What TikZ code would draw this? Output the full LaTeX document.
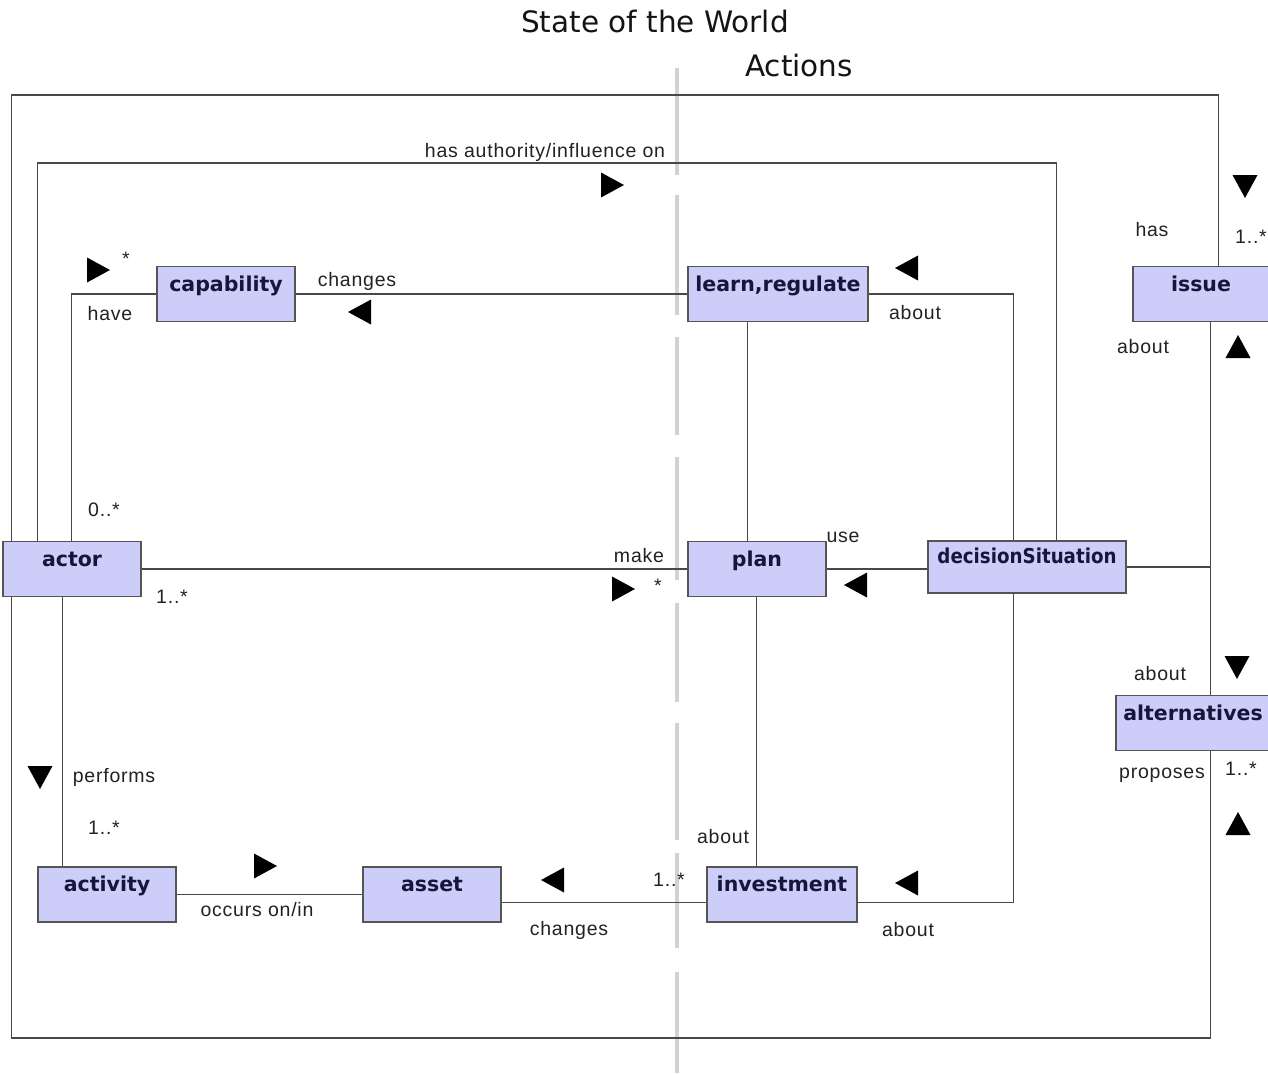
\documentclass[tikz,border=0pt]{standalone}
\usepackage{fontspec}
\newfontfamily\lblfont{Liberation Sans}[LetterSpace=4]
\newfontfamily\boxfont{DejaVu Sans}
\newfontfamily\boxfonttight{DejaVu Sans}[FakeStretch=0.89]
\newfontfamily\titlefont{DejaVu Sans}
\definecolor{boxfill}{RGB}{205,205,250}
\definecolor{boxline}{RGB}{85,85,85}
\definecolor{boxtext}{RGB}{22,22,58}
\definecolor{linecol}{RGB}{72,72,72}
\definecolor{labelcol}{RGB}{34,34,34}
\definecolor{dashcol}{RGB}{210,210,210}
\begin{document}
\begin{tikzpicture}[x=1pt,y=-1pt,
  umlbox/.style={draw=boxline, fill=boxfill, line width=1.4pt, inner sep=0pt,
    text=boxtext, font=\boxfont\bfseries\fontsize{20.5}{24}\selectfont,
    text height=24.5pt, text depth=30.5pt, minimum width=138pt},
  conn/.style={draw=linecol, line width=1.5pt},
  lbl/.style={font=\lblfont\fontsize{19.5}{22}\selectfont, text=labelcol, inner sep=0pt},
  ttl/.style={font=\titlefont\fontsize{29.5}{34}\selectfont, text=black!92, inner sep=0pt},
  tri/.pic={\fill[black] (-11,-12.5) -- (12,0) -- (-11,12.5) -- cycle;}
]
\clip (0,0) rectangle (1268,1073);
\fill[white] (0,0) rectangle (1268,1073);

% grey separator
\draw[dashcol, line width=4pt]
  (677,68) -- (677,175) (677,195) -- (677,315) (677,337) -- (677,435)
  (677,457) -- (677,580) (677,603) -- (677,702) (677,723) -- (677,840)
  (677,853) -- (677,948) (677,972) -- (677,1073);

% titles
\node[ttl] (title1) at (655,22) {State of the World};
\node[ttl] (title2) at (799,66) {Actions};

% classes
\node[umlbox] (capability) at (226,294) {capability};
\node[umlbox, minimum width=180pt] (learn) at (778,294) {learn,regulate};
\node[umlbox] (actor) at (72,569) {actor};
\node[umlbox] (plan) at (757,569) {plan};
\node[umlbox, minimum width=198pt, text height=22.5pt, text depth=29.5pt,
  font=\boxfonttight\bfseries\fontsize{20.5}{24}\selectfont] (decision) at (1027,567) {decisionSituation};
\node[umlbox, minimum width=136pt] (issue) at (1201,294) {issue};
\node[umlbox, minimum width=154pt] (alternatives) at (1193,723) {alternatives};
\node[umlbox] (activity) at (107,894.5) {activity};
\node[umlbox] (asset) at (432,894.5) {asset};
\node[umlbox, minimum width=150pt] (investment) at (782,894.5) {investment};

% connectors
\draw[conn] ([xshift=9pt]actor.north west) -- ++(0,-446) -| ([xshift=86pt]issue.north west);
\draw[conn] ([xshift=9pt]actor.south west) -- ++(0,441) -| ([xshift=95pt]alternatives.south west);
\draw[conn] ([xshift=35pt]actor.north west) -- ++(0,-378) -| ([xshift=129pt]decision.north west);
\draw[conn] ([xshift=69pt]actor.north west) |- (capability.west);
\draw[conn] (capability.east) -- (learn.west);
\draw[conn] (learn.east) -| ([xshift=86pt]decision.north west);
\draw[conn] ([xshift=60pt]learn.south west) -- ([xshift=60pt]plan.north west);
\draw[conn] (actor.east) -- (plan.west);
\draw[conn] (plan.east) -- (plan.east -| decision.west);
\draw[conn] ([xshift=69pt]plan.south west) -- ([xshift=50pt]investment.north west);
\draw[conn] ([xshift=86pt]decision.south west) |- ([yshift=-8pt]investment.east);
\draw[conn] (decision.east) -| ([xshift=78pt]issue.south west);
\draw[conn] (decision.east) -| ([xshift=95pt]alternatives.north west);
\draw[conn] ([xshift=60pt]actor.south west) -- ([xshift=25pt]activity.north west);
\draw[conn] (activity.east) -- (asset.west);
\draw[conn] ([yshift=-8pt]asset.east) -- ([yshift=-8pt]investment.west);

% labels
\node[lbl] (l1) at (545,152) {has authority/influence on};
\node[lbl] (l2) at (110,314) {have};
\node[lbl] (l3) at (126,259) {*};
\node[lbl] (l4) at (357,281) {changes};
\node[lbl] (l5) at (915,313) {about};
\node[lbl] (l6) at (1152,230) {has};
\node[lbl] (l7) at (1251,237) {1..*};
\node[lbl] (l8) at (1143,347) {about};
\node[lbl] (l9) at (104,510) {0..*};
\node[lbl] (l10) at (172,597) {1..*};
\node[lbl] (l11) at (639,556) {make};
\node[lbl] (l12) at (658,586) {*};
\node[lbl] (l13) at (843,537) {use};
\node[lbl] (l14) at (1160,674) {about};
\node[lbl] (l15) at (1162,775) {proposes};
\node[lbl] (l16) at (1241,769) {1..*};
\node[lbl] (l17) at (114,777) {performs};
\node[lbl] (l18) at (104,828) {1..*};
\node[lbl] (l19) at (257,910) {occurs on/in};
\node[lbl] (l20) at (669,880) {1..*};
\node[lbl] (l21) at (569,930) {changes};
\node[lbl] (l22) at (723,837) {about};
\node[lbl] (l23) at (908,930) {about};

% direction triangles
\pic at (612,185) {tri};
\pic at (98,270) {tri};
\pic[rotate=180] at (360,312) {tri};
\pic[rotate=180] at (907,268) {tri};
\pic[rotate=-90] at (1245,186) {tri};
\pic[rotate=90] at (1238,347) {tri};
\pic at (623,589) {tri};
\pic[rotate=180] at (856,585) {tri};
\pic[rotate=-90] at (1237,667) {tri};
\pic[rotate=90] at (1238,824) {tri};
\pic[rotate=-90] at (40,777) {tri};
\pic at (265,866) {tri};
\pic[rotate=180] at (553,880) {tri};
\pic[rotate=180] at (907,883) {tri};
\end{tikzpicture}
\end{document}
